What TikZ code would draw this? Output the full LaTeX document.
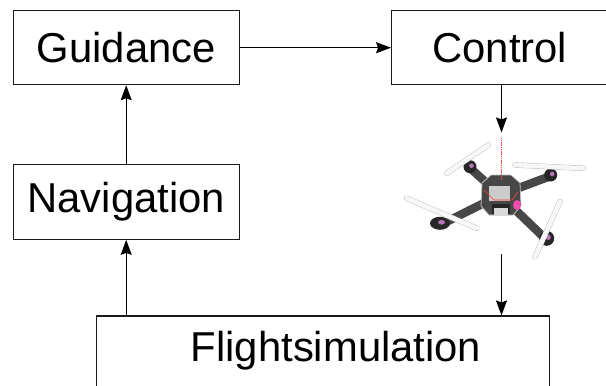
\documentclass[tikz,border=0pt]{standalone}
\usepackage{fontspec}
\setmainfont{Liberation Sans}
\usetikzlibrary{arrows.meta}

\begin{document}
\begin{tikzpicture}[x=1pt,y=-1pt,
    block/.style={draw=black!90,line width=1.1pt,inner sep=0pt,font=\fontsize{41.8}{50}\selectfont},
    flow/.style={line width=0.9pt,-{Stealth[length=15pt,width=11pt,inset=2pt]}},
    arm/.style={line width=8.5pt,black!72},
    prop/.style={draw=gray!55,double=gray!6,double distance=4.6pt,line cap=round},
    motor/.style={fill=black!85}]
    % page frame, the right and bottom boxes run off it
    \clip (0,0) rectangle (606,386);

    \node[block,minimum width=225.7pt,minimum height=74pt] (guid) at (126.2,47.7) {Guidance};
    \node[block,minimum width=216.6pt,minimum height=74pt] (ctrl) at (499.9,47.7) {Control};
    \node[block,minimum width=225.7pt,minimum height=74.6pt] (nav) at (126.2,202) {Navigation};
    \node[block,minimum width=452.6pt,minimum height=100pt] (sim) at (323,366) {};
    \node[font=\fontsize{41.8}{50}\selectfont,anchor=base,inner sep=0pt] (simtext) at (336,361.7) {Flightsimulation};

    % the quadcopter
    \node[minimum width=180pt,minimum height=121.3pt,inner sep=0pt] (drone) at (501.5,193.3) {};
    \foreach \mx/\my in {470/168, 550.7/176, 440/225, 546.7/240}
        \draw[arm] (500,195) -- (\mx,\my);
    \filldraw[fill=black!72,draw=gray!50,line width=0.8pt]
        (482,183) -- (491,175) -- (511,175) -- (520,183) -- (521,206) -- (513,215) -- (489,215) -- (481,206) -- cycle;
    \fill[gray!40] (489,186) rectangle (510,201);
    \fill[black!85] (492,204) rectangle (510,214);
    \fill[white!85!black] (494,208) rectangle (508,215);
    \draw[red!75,line width=0.6pt] (484,190) -- (494,200) -- (512,200) -- (518,192);
    \fill[magenta!70] (517,205) ellipse [x radius=4pt,y radius=5pt];
    \foreach \mx/\my/\rx/\ry in {470/166.7/6.5/6.5, 550.7/175/6.5/6.5, 440/223.3/10/6.5, 546.7/238.3/7.5/7.5} {
        \fill[motor] (\mx,\my) ellipse [x radius=\rx pt,y radius=\ry pt];
        \fill[violet!55] (\mx+1.5,\my-1) ellipse [x radius=0.35*\rx pt,y radius=0.35*\ry pt];
    }
    \draw[prop] (446.7,173.3) -- (488.3,145);
    \draw[prop] (515,165) -- (583.3,168.3);
    \draw[prop] (406.7,198.3) -- (476.7,228.3);
    \draw[prop] (560,201.7) -- (535,256.7);
    \draw[red!70,line width=0.7pt,dash pattern=on 1.2pt off 0.6pt] (501,138) -- (501,180);

    \draw[flow] (guid) -- (ctrl);
    \draw[flow] (nav) -- (guid);
    \draw[flow] (nav.south |- sim.north) -- (nav);
    \draw[flow] (ctrl.south -| drone.north) -- (drone.north);
    \draw[flow] (drone.south) -- (drone.south |- sim.north);
\end{tikzpicture}
\end{document}
